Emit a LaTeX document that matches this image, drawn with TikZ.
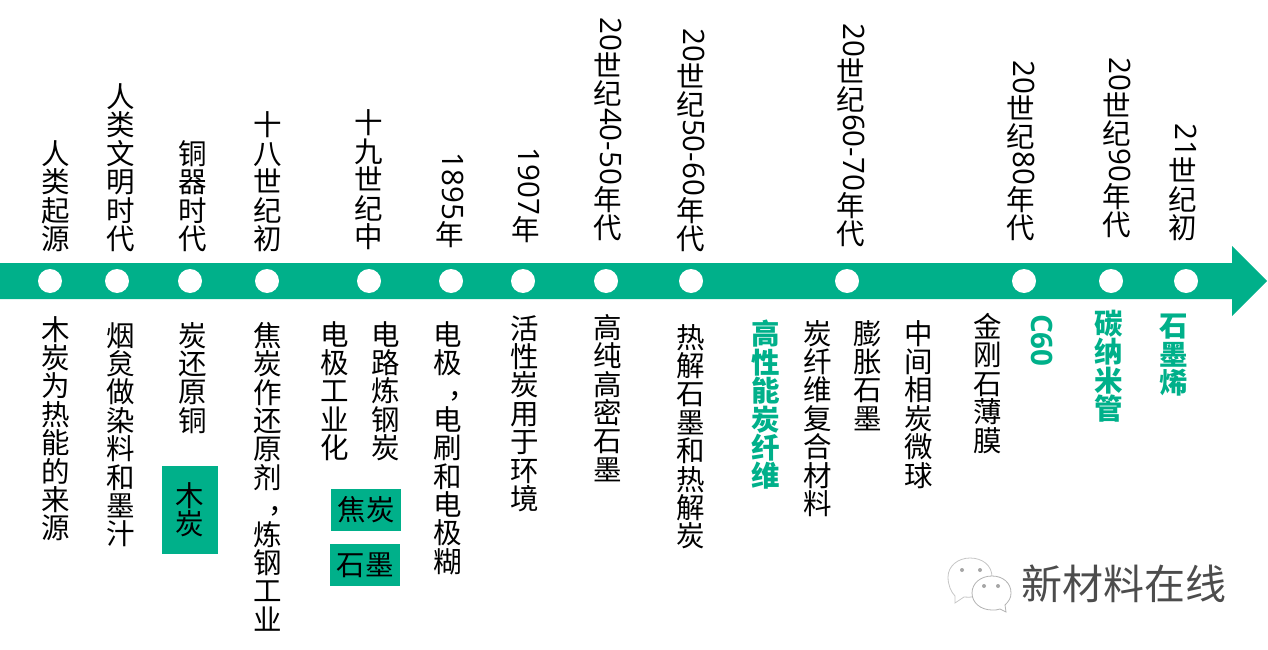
\documentclass[tikz,border=0pt]{standalone}
\usepackage{fontspec}
\usepackage{graphicx}
\setmainfont{Noto Sans CJK SC}
\newfontfamily\digitfont{Open Sans}
\definecolor{bandgreen}{HTML}{00B08A}
\newcommand{\sw}[1]{\raisebox{25pt}{\hspace*{7pt}\rotatebox{-90}{\digitfont\fontsize{29.5}{28.4}\selectfont #1}}}
\newcommand{\vcomma}{\raisebox{-15pt}[0pt][0pt]{︐}}
\tikzset{
    era-label/.style = {anchor=south, align=center, inner sep=0pt, xshift=0.7pt, font=\fontsize{28.5}{28.4}\selectfont},
    item-label/.style = {anchor=north, align=center, inner sep=0pt, xshift=0.7pt, font=\fontsize{28.5}{28.4}\selectfont},
    key-label/.style = {item-label, text=bandgreen, font=\fontsize{28.5}{28.4}\selectfont\bfseries},
    tag-box/.style = {fill=bandgreen, inner sep=0pt, align=center, font=\fontsize{28.5}{28.4}\selectfont},
    dot-mark/.style = {circle, fill=white, inner sep=0pt, minimum size=24pt},
}

\begin{document}
\begin{tikzpicture}[x=1pt, y=-1pt]
\useasboundingbox (0,0) rectangle (1268,650);
\fill[bandgreen] (0,263) -- (1232,263) -- (1232,246) -- (1267,281) -- (1232,316) -- (1232,299) -- (0,299) -- cycle;
\foreach \x [count=\i] in {50,117,190,267,369,451,523,606,691,847,1024,1111,1186}
    \node[dot-mark] (dot\i) at (\x,281) {};

% above the band
\node[era-label] (era1) at (55,252) {人\\类\\起\\源};
\node[era-label] (era2) at (120,252) {人\\类\\文\\明\\时\\代};
\node[era-label] (era3) at (192,252) {铜\\器\\时\\代};
\node[era-label] (era4) at (267,252) {十\\八\\世\\纪\\初};
\node[era-label] (era5) at (368,250) {十\\九\\世\\纪\\中};
\node[era-label] (era6) at (449,248) {\sw{1895}\\年};
\node[era-label] (era7) at (525,243) {\sw{1907}\\年};
\node[era-label] (era8) at (607,241) {\sw{20}\\世\\纪\\\sw{40-50}\\年\\代};
\node[era-label] (era9) at (690,252) {\sw{20}\\世\\纪\\\sw{50-60}\\年\\代};
\node[era-label] (era10) at (850,247) {\sw{20}\\世\\纪\\\sw{60-70}\\年\\代};
\node[era-label] (era11) at (1020,241) {\sw{20}\\世\\纪\\\sw{80}\\年\\代};
\node[era-label] (era12) at (1116,238) {\sw{20}\\世\\纪\\\sw{90}\\年\\代};
\node[era-label] (era13) at (1182,241) {\sw{21}\\世\\纪\\初};

% below the band
\node[item-label] (item1) at (55,316) {木\\炭\\为\\热\\能\\的\\来\\源};
\node[item-label] (item2) at (120,322) {烟\\炱\\做\\染\\料\\和\\墨\\汁};
\node[item-label] (item3) at (192,322) {炭\\还\\原\\铜};
\node[item-label] (item4) at (267,322) {焦\\炭\\作\\还\\原\\剂\\\vcomma\\炼\\钢\\工\\业};
\node[item-label] (item5) at (334,321) {电\\极\\工\\业\\化};
\node[item-label] (item6) at (385,321) {电\\路\\炼\\钢\\炭};
\node[item-label] (item7) at (447,321) {电\\极\\\vcomma\\电\\刷\\和\\电\\极\\糊};
\node[item-label] (item8) at (524,315) {活\\性\\炭\\用\\于\\环\\境};
\node[item-label] (item9) at (607,314) {高\\纯\\高\\密\\石\\墨};
\node[item-label] (item10) at (690,324) {热\\解\\石\\墨\\和\\热\\解\\炭};
\node[key-label] (item11) at (765,320) {高\\性\\能\\炭\\纤\\维};
\node[item-label] (item12) at (817,320) {炭\\纤\\维\\复\\合\\材\\料};
\node[item-label] (item13) at (867,320) {膨\\胀\\石\\墨};
\node[item-label] (item14) at (918,320) {中\\间\\相\\炭\\微\\球};
\node[item-label] (item15) at (987,313) {金\\刚\\石\\薄\\膜};
\node[key-label] (item16) at (1038,314) {\sw{\bfseries C60}};
\node[key-label] (item17) at (1108,310) {碳\\纳\\米\\管};
\node[key-label] (item18) at (1173,314) {石\\墨\\烯};

% material tags
\node[tag-box, minimum width=56pt, minimum height=88pt] (tag1) at (190,510) {木\\炭};
\node[tag-box, minimum width=70pt, minimum height=42pt] (tag2) at (366,510) {焦炭};
\node[tag-box, minimum width=70pt, minimum height=42pt] (tag3) at (365,565) {石墨};

% watermark
\fill[white, draw=gray!45, thick] (955,596) -- (955,603) -- (964,597) .. controls (978,599) and (992,590) .. (992,577) .. controls (992,565) and (982,558) .. (970,558) .. controls (958,558) and (948,566) .. (948,577) .. controls (948,585) and (951,592) .. (955,596) -- cycle;
\fill[white, draw=gray!60, thick] (1000,609) -- (1006,612) -- (1005,605) .. controls (1009,601) and (1011,598) .. (1011,593) .. controls (1011,583) and (1003,576) .. (992,576) .. controls (981,576) and (972,583) .. (972,593) .. controls (972,603) and (981,610) .. (992,610) .. controls (995,610) and (998,610) .. (1000,609) -- cycle;
\foreach \ex/\ey in {962/570,980/570,984/586,998/586}
    \fill[gray!70] (\ex,\ey) circle (2pt);
\node[inner sep=0pt, text=black!70, font=\fontsize{41}{41}\selectfont] (mark) at (1124,584) {新材料在线};
\end{tikzpicture}
\end{document}
